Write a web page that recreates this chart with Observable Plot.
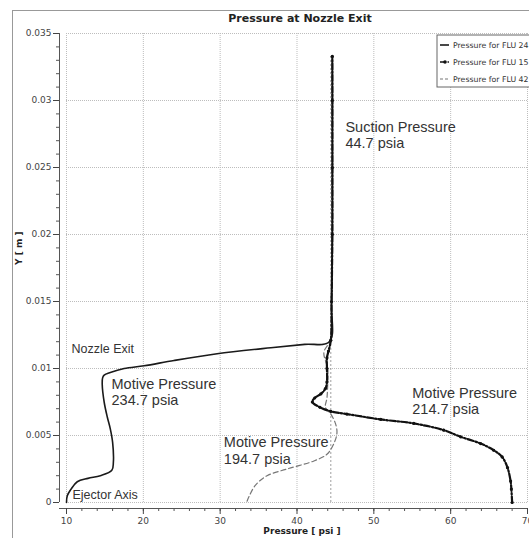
<!DOCTYPE html>
<html>
<head>
<meta charset="utf-8">
<script src="https://cdn.jsdelivr.net/npm/d3@7"></script>
<script src="https://cdn.jsdelivr.net/npm/@observablehq/plot@0.6"></script>
<style>
  body { margin: 0; background: #fff; }
  #chart { width: 529px; height: 538px; overflow: hidden; }
</style>
</head>
<body>
<div id="chart"></div>
<script>
// Pressure profiles across the nozzle exit plane (pressure in psi, Y in m)
const flu24Pressure = [10.0, 10.1, 10.6, 11.4, 12.8, 14.4, 15.9, 16.1, 16.0, 15.7, 15.3, 14.9, 14.65, 14.7, 14.9, 15.7, 17.5, 20.1, 24.0, 29.6, 36.6, 41.0, 44.2, 44.5, 44.6];
const flu24Y        = [0.0000, 0.0005, 0.0010, 0.00155, 0.0018, 0.0020, 0.0024, 0.0030, 0.0045, 0.0055, 0.0064, 0.0075, 0.0088, 0.0093, 0.0095, 0.0097, 0.0100, 0.0102, 0.0106, 0.0111, 0.01155, 0.0118, 0.0120, 0.0150, 0.0333];

const flu15Pressure = [68.0, 67.9, 67.8, 67.4, 66.7, 65.6, 63.9, 61.3, 59.1, 55.2, 50.9, 46.5, 44.4, 43.0, 42.0, 42.3, 43.1, 43.7, 43.9, 43.9, 43.9, 44.1, 44.4, 44.5, 44.6, 44.6, 44.6, 44.6];
const flu15Y        = [0.0000, 0.0010, 0.0016, 0.0026, 0.0034, 0.0039, 0.0044, 0.0049, 0.0054, 0.0059, 0.0062, 0.0066, 0.0068, 0.0071, 0.0075, 0.0078, 0.0081, 0.0085, 0.0090, 0.0100, 0.0108, 0.0113, 0.0121, 0.0150, 0.0200, 0.0250, 0.0300, 0.0333];

const flu42Pressure = [33.5, 33.8, 34.6, 36.1, 38.7, 42.2, 43.9, 44.8, 45.2, 45.0, 44.4, 43.7, 43.9, 44.0, 44.0, 43.5, 44.3, 44.5, 44.6];
const flu42Y        = [0.0001, 0.0005, 0.0013, 0.0020, 0.0025, 0.0031, 0.0036, 0.0044, 0.0052, 0.0059, 0.0066, 0.0071, 0.0078, 0.0090, 0.0100, 0.0112, 0.0121, 0.0150, 0.0333];

const seriesNames = ["Pressure for FLU 24", "Pressure for FLU 15", "Pressure for FLU 42"];
const suctionReference = [44.4];

const xTicks = [10, 20, 30, 40, 50, 60, 70];
const xTickLabels = ["10", "20", "30", "40", "50", "60", "70"];
const yTicks = [0, 0.005, 0.01, 0.015, 0.02, 0.025, 0.03, 0.035];
const yTickLabels = ["0", "0.005", "0.01", "0.015", "0.02", "0.025", "0.03", "0.035"];
const xMinorTicks = d3.range(10, 71, 2);
const yMinorTicks = d3.range(0, 36).map(i => i / 1000);

const annotationText = ["Suction Pressure\n44.7 psia", "Motive Pressure\n234.7 psia", "Motive Pressure\n194.7 psia", "Motive Pressure\n214.7 psia"];
const annotationPressure = [46.3, 15.86, 30.48, 55.0];
const annotationY = [0.02642, 0.00724, 0.00291, 0.00657];

const noteText = ["Nozzle Exit", "Ejector Axis"];
const notePressure = [10.65, 10.78];
const noteY = [0.01117, 0.00028];

const title = "Pressure at Nozzle Exit";
const xLabel = "Pressure [ psi ]";
const yLabel = "Y [ m ]";

// tables built from the arrays above
const toRows = (P, Y) => P.map((p, i) => ({p, y: Y[i]}));
const flu24 = toRows(flu24Pressure, flu24Y);
const flu15 = toRows(flu15Pressure, flu15Y);
const flu42 = toRows(flu42Pressure, flu42Y);
const annotations = annotationText.map((text, i) => ({text, p: annotationPressure[i], y: annotationY[i]}));
const notes = noteText.map((text, i) => ({text, p: notePressure[i], y: noteY[i]}));

const W = 529, H = 538;
const tickFont = "DejaVu Sans, Verdana, sans-serif";
const noteFont = "Liberation Sans, Arial, sans-serif";

const seriesStyles = [
  {stroke: "#1a1a1a", width: 1.6, dash: null, marker: false},
  {stroke: "#111", width: 2.2, dash: "6,2,1.5,2", marker: true},
  {stroke: "#777", width: 1.2, dash: "5,3", marker: false}
];

// legend box in the upper right corner
function legendMark() {
  const g = d3.create("svg:g").attr("font-family", tickFont).attr("font-size", 7.8).attr("fill", "#333");
  const x0 = W - 92, y0 = 35;
  g.append("rect").attr("x", x0).attr("y", y0).attr("width", 120).attr("height", 52)
    .attr("fill", "white").attr("stroke", "#666").attr("stroke-width", 1);
  seriesNames.forEach((name, i) => {
    const s = seriesStyles[i];
    const cy = y0 + 10 + i * 17;
    const ln = g.append("line").attr("x1", x0 + 3).attr("x2", x0 + 12).attr("y1", cy).attr("y2", cy)
      .attr("stroke", s.stroke).attr("stroke-width", Math.min(s.width, 1.6));
    if (s.dash) ln.attr("stroke-dasharray", i === 2 ? "3,2" : "6,1.5,1.5,1.5");
    if (s.marker) g.append("circle").attr("cx", x0 + 8).attr("cy", cy).attr("r", 1.8).attr("fill", s.stroke);
    g.append("text").attr("x", x0 + 16).attr("y", cy).attr("dy", "0.35em")
      .attr("text-anchor", "start").text(name);
  });
  return g.node();
}

const chart = Plot.plot({
  width: W,
  height: H,
  marginLeft: 66,
  marginRight: 2,
  marginTop: 33,
  marginBottom: 36,
  style: {background: "white", fontFamily: tickFont},
  x: {domain: [10, 70], axis: null},
  y: {domain: [0, 0.035], axis: null},
  marks: [
    // outer figure border
    Plot.frame({stroke: "#999", strokeWidth: 1, insetLeft: -54, insetTop: -23, insetRight: -30, insetBottom: -60}),
    // dotted grid
    Plot.ruleX(xTicks, {stroke: "#bdbdbd", strokeWidth: 1, strokeDasharray: "1,1"}),
    Plot.ruleY(yTicks, {stroke: "#bdbdbd", strokeWidth: 1, strokeDasharray: "1,1"}),
    // reference line at the suction pressure
    Plot.ruleX(suctionReference, {y1: 0, y2: 0.0333, stroke: "#888", strokeWidth: 0.8, strokeDasharray: "2,2"}),
    // offset axes
    Plot.ruleX([xTicks[0]], {dx: -7, stroke: "#555", strokeWidth: 1}),
    Plot.ruleY([yTicks[0]], {dy: 6, insetLeft: -7, stroke: "#555", strokeWidth: 1}),
    Plot.axisX({ticks: xMinorTicks, tickSize: 3, tickFormat: () => "", dy: 6, color: "#555", label: null}),
    Plot.axisX({ticks: xTicks, tickSize: 6, tickPadding: 3, dy: 6, tickFormat: (d) => xTickLabels[xTicks.indexOf(d)],
      color: "#444", fontSize: 9, label: null}),
    Plot.axisY({ticks: yMinorTicks, tickSize: 3, tickFormat: () => "", dx: -7, color: "#555", label: null}),
    Plot.axisY({ticks: yTicks, tickSize: 6, tickPadding: 2, dx: -7, tickFormat: (d) => yTickLabels[yTicks.indexOf(d)],
      color: "#444", fontSize: 9, label: null}),
    // series
    Plot.line(flu42, {x: "p", y: "y", stroke: seriesStyles[2].stroke, strokeWidth: seriesStyles[2].width,
      strokeDasharray: seriesStyles[2].dash, curve: "catmull-rom"}),
    Plot.line(flu24, {x: "p", y: "y", stroke: seriesStyles[0].stroke, strokeWidth: seriesStyles[0].width, curve: "catmull-rom"}),
    Plot.line(flu15, {x: "p", y: "y", stroke: seriesStyles[1].stroke, strokeWidth: seriesStyles[1].width,
      strokeDasharray: seriesStyles[1].dash, curve: "catmull-rom"}),
    Plot.dot(flu15, {x: "p", y: "y", r: 1.6, fill: seriesStyles[1].stroke, stroke: null}),
    // annotations
    Plot.text(annotations, {x: "p", y: "y", text: "text", textAnchor: "start", lineAnchor: "bottom",
      lineHeight: 1.15, fontSize: 14.5, fontFamily: noteFont, fill: "#333"}),
    Plot.text(notes, {x: "p", y: "y", text: "text", textAnchor: "start", lineAnchor: "bottom",
      fontSize: 12.5, fontFamily: noteFont, fill: "#333"}),
    // titles
    Plot.text([title], {text: d => d, frameAnchor: "top", dx: 3, dy: -15, lineAnchor: "middle",
      fontSize: 11, fontWeight: "bold", fill: "#222"}),
    Plot.text([xLabel], {text: d => d, frameAnchor: "bottom", dx: 5, dy: 29, lineAnchor: "middle",
      fontSize: 9, fontWeight: "bold", fill: "#222"}),
    Plot.text([yLabel], {text: d => d, frameAnchor: "left", dx: -47.5, dy: -3, rotate: -90, lineAnchor: "middle",
      fontSize: 9, fontWeight: "bold", fill: "#222"}),
    legendMark
  ]
});

document.getElementById("chart").append(chart);
</script>
</body>
</html>
